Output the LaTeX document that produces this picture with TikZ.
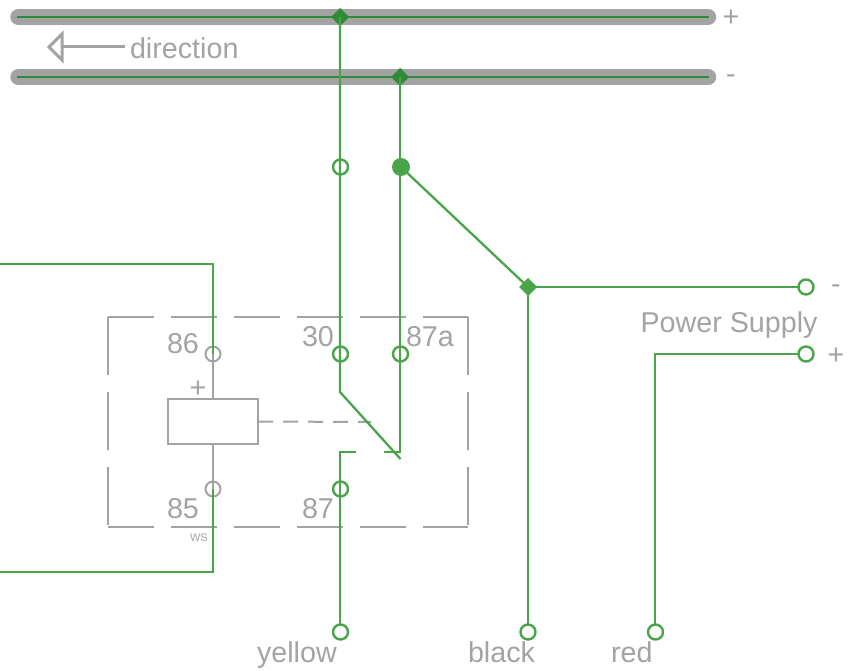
\documentclass[tikz,border=0pt]{standalone}
\usepackage{fontspec}
\setmainfont{Liberation Sans}
\usetikzlibrary{shapes.geometric}
\definecolor{wireg}{HTML}{4AA54A}
\definecolor{busg}{HTML}{2E8B36}
\definecolor{gr}{HTML}{A3A3A3}
\tikzset{
 wire/.style={draw=wireg,line width=2.3pt,line join=miter},
 busbar/.style={draw=gr,line width=16.5pt,line cap=round},
 buswire/.style={draw=busg,line width=2.4pt},
 relay/.style={draw=gr,line width=2pt},
 boxh/.style={relay,dash pattern=on 46pt off 17pt},
 boxv/.style={relay,dash pattern=on 58pt off 17pt},
 link/.style={relay,dash pattern=on 15pt off 10pt},
 term/.style={circle,draw=wireg,line width=2.4pt,minimum size=15pt,inner sep=0pt,outer sep=0pt},
 gterm/.style={circle,draw=gr,line width=2pt,minimum size=15pt,inner sep=0pt,outer sep=0pt},
 filled/.style={circle,fill=wireg,minimum size=18pt,inner sep=0pt,outer sep=0pt},
 jbus/.style={diamond,fill=busg,minimum size=18pt,inner sep=0pt,outer sep=0pt,aspect=1},
 jwire/.style={diamond,fill=wireg,minimum size=18pt,inner sep=0pt,outer sep=0pt,aspect=1},
 lab/.style={text=gr,font=\fontsize{28.7}{28.7}\selectfont,inner sep=0pt,outer sep=0pt,anchor=base west},
 sym/.style={text=gr,font=\fontsize{28.7}{28.7}\selectfont,inner sep=0pt,outer sep=0pt},
 small/.style={text=gr,font=\fontsize{11}{11}\selectfont,inner sep=0pt,outer sep=0pt,anchor=base west},
}
\begin{document}
\begin{tikzpicture}[x=1pt,y=-1pt]
\useasboundingbox (0,0) rectangle (853,671);
% named points
\coordinate (busAl) at (18.5,17); \coordinate (busAr) at (708,17);
\coordinate (busBl) at (18.5,77); \coordinate (busBr) at (708,77);
\coordinate (busAli) at (17,17); \coordinate (busAri) at (709,17);
\coordinate (busBli) at (17,77); \coordinate (busBri) at (709,77);
\coordinate (arrowEnd) at (124.5,47); \coordinate (arrowMid) at (61,47);
\coordinate (headT) at (62,34); \coordinate (headB) at (62,60); \coordinate (headP) at (49,47);
\coordinate (w30) at (340,392); \coordinate (swEnd) at (400.5,459);
\coordinate (w87a) at (400,452); \coordinate (stubA) at (384,452);
\coordinate (w87) at (340,452); \coordinate (stubB) at (356,452);
\coordinate (redBend) at (655,354);
\coordinate (leftT) at (0,264); \coordinate (bendT) at (213,264);
\coordinate (leftB) at (0,572); \coordinate (bendB) at (213,572);
\coordinate (bTL) at (108,317); \coordinate (bTR) at (468,317);
\coordinate (bBL) at (108,527); \coordinate (bBR) at (468,527);
\coordinate (linkEnd) at (371,422);
% bus bars
\draw[busbar] (busAl) -- (busAr);
\draw[busbar] (busBl) -- (busBr);
\draw[buswire] (busAli) -- (busAri);
\draw[buswire] (busBli) -- (busBri);
% nodes
\node[jbus] (ja) at (340,17) {};
\node[jbus] (jb) at (400,77) {};
\node[jwire] (jc) at (528,287) {};
\node[term] (t1) at (340.5,167) {};
\node[filled] (t2) at (401,167) {};
\node[term] (psm) at (806,287) {};
\node[term] (psp) at (806,354) {};
\node[term] (t30) at (340.5,354) {};
\node[term] (t87a) at (400.5,354) {};
\node[term] (t87) at (340.5,489) {};
\node[gterm] (t86) at (213,354) {};
\node[gterm] (t85) at (213,489) {};
\node[term] (ty) at (340.5,632) {};
\node[term] (tb) at (528,632) {};
\node[term] (tr) at (655.5,632) {};
\node[relay,rectangle,minimum width=90pt,minimum height=45pt,inner sep=0pt,outer sep=0pt,anchor=north west] (coil) at (168,399) {};
% relay box
\draw[boxh] (bTL) -- (bTR);
\draw[boxh] (bBL) -- (bBR);
\draw[boxv] (bTL) -- (bBL);
\draw[boxv] (bTR) -- (bBR);
\draw[link] (coil.east) -- (linkEnd);
\draw[relay] (t86.center) -- (coil.north);
\draw[relay] (coil.south) -- (t85.center);
% wires
\draw[wire] (ja.center) -- (ja.center |- w30) -- (swEnd);
\draw[wire] (jb.center) -- (jb.center |- w87a) -- (stubA);
\draw[wire] (t2.center) -- (jc.center);
\draw[wire] (jc.center) -- (psm.west);
\draw[wire] (jc.center) -- (jc.center |- tb.north);
\draw[wire] (redBend |- tr.north) -- (redBend) -- (psp.west);
\draw[wire] (w87 |- ty.north) -- (w87) -- (stubB);
\draw[wire] (leftT) -- (bendT) -- (t86.center);
\draw[wire] (leftB) -- (bendB) -- (t85.center);
% arrow
\draw[draw=gr,line width=3pt] (arrowEnd) -- (arrowMid);
\draw[draw=gr,line width=3pt,miter limit=10] (headT) -- (headP) -- (headB) -- cycle;
% labels
\node[lab] (ldir) at (130,58.5) {direction};
\node[sym] (lbp) at (731,18) {+};
\node[lab] (lbm) at (726,84) {-};
\node[lab] (lps) at (640.5,332) {Power Supply};
\node[lab] (lpm) at (831,293.5) {-};
\node[sym] (lpp) at (836,356) {+};
\node[lab] (l86) at (167,353) {86};
\node[lab] (l30) at (302,346) {30};
\node[lab] (l87a) at (406,346) {87a};
\node[lab] (l85) at (167,518) {85};
\node[lab] (l87) at (302,518) {87};
\node[sym] (lcp) at (198,389) {+};
\node[small] (lws) at (190,541.5) {WS};
\node[lab] (ly) at (257,662) {yellow};
\node[lab] (lb) at (468,662) {black};
\node[lab] (lr) at (611,662) {red};
\end{tikzpicture}
\end{document}
